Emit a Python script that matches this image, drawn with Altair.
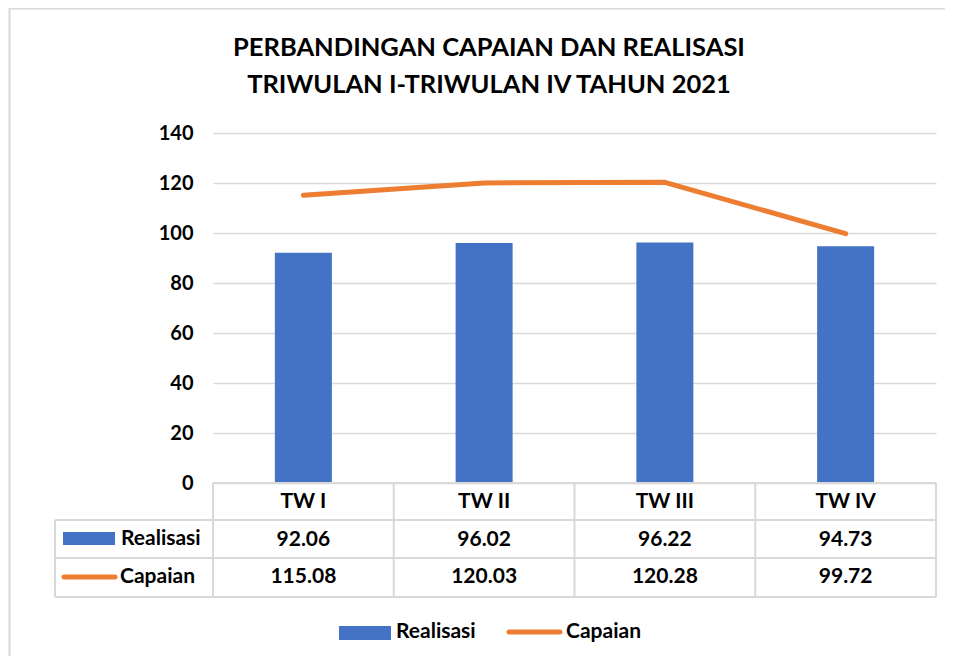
import altair as alt
import pandas as pd

categories = ["TW I", "TW II", "TW III", "TW IV"]
realisasi = [92.06, 96.02, 96.22, 94.73]
capaian = [115.08, 120.03, 120.28, 99.72]
title_lines = ["PERBANDINGAN CAPAIAN DAN REALISASI", "TRIWULAN I-TRIWULAN IV TAHUN 2021"]
y_ticks = [0, 20, 40, 60, 80, 100, 120, 140]

df = pd.DataFrame({"cat": categories, "Realisasi": realisasi, "Capaian": capaian})
one = pd.DataFrame({"k": [0]})

FONT = "Lato"
BLUE = "#4472C4"
ORANGE = "#ED7D31"
GRID = "#D9D9D9"
W, H = 723, 350

xs = alt.Scale(domain=categories, paddingInner=0, paddingOuter=0)
ys = alt.Scale(domain=[0, 140])

X = alt.X("cat:N", scale=xs, sort=categories, axis=None)

bars = alt.Chart(df).mark_bar(color=BLUE, size=57).encode(
    x=X,
    y=alt.Y("Realisasi:Q", scale=ys, title=None,
            axis=alt.Axis(values=y_ticks, domain=False, ticks=False, labelFont=FONT,
                          labelFontWeight="bold", labelFontSize=20, labelColor="#000000",
                          labelPadding=20, gridColor=GRID, gridWidth=1.5)),
)

line = alt.Chart(df).mark_line(color=ORANGE, strokeWidth=5, strokeCap="round", strokeJoin="round").encode(
    x=X, y=alt.Y("Capaian:Q", scale=ys)
)

def txt(field, yv, fmt=None):
    enc = dict(x=X, y=alt.value(yv))
    if fmt:
        enc["text"] = alt.Text(field, format=fmt)
    else:
        enc["text"] = alt.Text(field)
    return alt.Chart(df).mark_text(font=FONT, fontWeight="bold", fontSize=21, color="#000000",
                                   baseline="middle", align="center").encode(**enc)

hdr = txt("cat:N", 369)
row1 = txt("Realisasi:Q", 407, ".2f")
row2 = txt("Capaian:Q", 444, ".2f")

def hrule(y, x0, x1):
    return alt.Chart(one).mark_rule(color=GRID, strokeWidth=2).encode(
        x=alt.value(x0), x2=alt.value(x1), y=alt.value(y))

def vrule_val(x, y0, y1):
    return alt.Chart(one).mark_rule(color=GRID, strokeWidth=2).encode(
        x=alt.value(x), y=alt.value(y0), y2=alt.value(y1))

vr = alt.Chart(df).mark_rule(color=GRID, strokeWidth=2).encode(
    x=alt.X("cat:N", scale=xs, sort=categories, axis=None, bandPosition=0),
    y=alt.value(350), y2=alt.value(464))

table_lines = [
    hrule(350, 0, W),
    hrule(387, -158, W),
    hrule(425, -158, W),
    hrule(464, -158, W),
    vrule_val(-158, 387, 464),
    vrule_val(W, 350, 464),
    vr,
]

def label(text, x, y):
    return alt.Chart(one).mark_text(text=text, font=FONT, fontWeight="bold", fontSize=21,
                                    color="#000000", align="left", baseline="middle").encode(
        x=alt.value(x), y=alt.value(y))

def swatch(x0, x1, y0, y1):
    return alt.Chart(one).mark_rect(color=BLUE).encode(
        x=alt.value(x0), x2=alt.value(x1), y=alt.value(y0), y2=alt.value(y1))

def lseg(x0, x1, y):
    return alt.Chart(one).mark_rule(color=ORANGE, strokeWidth=5, strokeCap="round").encode(
        x=alt.value(x0), x2=alt.value(x1), y=alt.value(y))

legend_parts = [
    swatch(-150, -98, 399, 412), label("Realisasi", -92, 406),
    lseg(-149, -98, 444), label("Capaian", -93, 444),
    swatch(126, 178, 493, 507), label("Realisasi", 183, 499),
    lseg(296, 347, 499), label("Capaian", 353, 499),
]

titles = [
    alt.Chart(one).mark_text(text=title_lines[0], font=FONT, fontWeight="bold", fontSize=25.5,
                             color="#000000", align="center", baseline="middle").encode(
        x=alt.value(276), y=alt.value(-85)),
    alt.Chart(one).mark_text(text=title_lines[1], font=FONT, fontWeight="bold", fontSize=25.5,
                             color="#000000", align="center", baseline="middle").encode(
        x=alt.value(276), y=alt.value(-48)),
]

border = alt.Chart(one).mark_rect(fill=None, stroke=GRID, strokeWidth=2).encode(
    x=alt.value(-203.5), x2=alt.value(800), y=alt.value(-124.5), y2=alt.value(600))

chart = alt.layer(border, bars, line, hdr, row1, row2, *table_lines, *legend_parts, *titles).properties(
    width=W, height=H,
    autosize=alt.AutoSizeParams(type="none"),
    padding={"left": 205, "top": 125, "right": 9, "bottom": 173},
).configure(background="white").configure_view(stroke=None)

chart.save("out.html", embed_options={"renderer": "svg", "actions": False})
